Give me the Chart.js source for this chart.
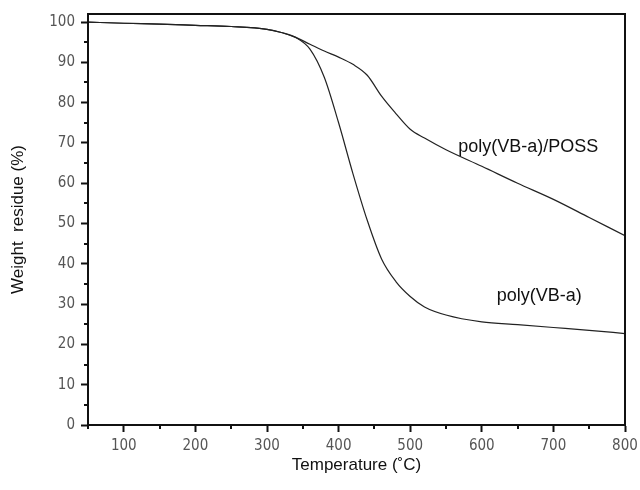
<!DOCTYPE html>
<html>
<head>
<meta charset="utf-8">
<script src="https://cdn.jsdelivr.net/npm/chart.js@4/dist/chart.umd.min.js"></script>
<style>
  html, body { margin: 0; padding: 0; background: #fff; }
  canvas { display: block; }
</style>
</head>
<body>
<canvas id="tga" width="640" height="490"></canvas>
<script>
// temperature (°C) and weight residue (%)
const temps = [50, 100, 150, 200, 250, 300, 320, 340, 360, 380, 400, 420, 440, 460, 480, 500, 520, 550, 600, 650, 700, 750, 800];
const possResidue = [100, 99.7, 99.5, 99.2, 98.9, 98.2, 97.4, 96.2, 94.5, 92.8, 91.3, 89.5, 86.8, 81.6, 77.3, 73.4, 71.2, 68.3, 64.2, 60.0, 56.0, 51.5, 47.0];
const vbaResidue = [100, 99.7, 99.5, 99.2, 98.9, 98.2, 97.4, 96.2, 93.3, 86.3, 75.0, 62.4, 50.8, 41.2, 35.6, 31.9, 29.3, 27.3, 25.6, 24.9, 24.2, 23.5, 22.7];

const xTicks = [100, 200, 300, 400, 500, 600, 700, 800];
const xMinor = [50, 150, 250, 350, 450, 550, 650, 750];
const yTicks = [0, 10, 20, 30, 40, 50, 60, 70, 80, 90, 100];
const yMinor = [5, 15, 25, 35, 45, 55, 65, 75, 85, 95];

const labels = [
  { text: 'poly(VB-a)/POSS', x: 567, y: 69 },
  { text: 'poly(VB-a)', x: 621, y: 32 }
];

const tickFont = { family: "'Liberation Sans Narrow', 'DejaVu Sans Condensed', sans-serif", size: 15 };
const titleFont = { family: "'Liberation Sans', Arial, sans-serif", size: 17 };

const toPoints = (ys) => temps.map((t, i) => ({ x: t, y: ys[i] }));

// frame, minor ticks and curve labels
const extras = {
  id: 'extras',
  afterDraw(chart) {
    const { ctx, chartArea: a, scales: { x, y } } = chart;
    ctx.save();
    ctx.strokeStyle = '#111';
    ctx.lineWidth = 2;
    ctx.strokeRect(a.left, a.top, a.right - a.left, a.bottom - a.top);

    ctx.beginPath();
    xMinor.forEach(v => {
      const px = Math.round(x.getPixelForValue(v));
      ctx.moveTo(px, a.bottom);
      ctx.lineTo(px, a.bottom + 4);
    });
    yMinor.forEach(v => {
      const py = Math.round(y.getPixelForValue(v));
      ctx.moveTo(a.left - 4, py);
      ctx.lineTo(a.left, py);
    });
    ctx.stroke();

    ctx.fillStyle = '#111';
    ctx.font = "18px 'Liberation Sans', Arial, sans-serif";
    ctx.textAlign = 'left';
    ctx.textBaseline = 'middle';
    labels.forEach(l => {
      ctx.fillText(l.text, x.getPixelForValue(l.x), y.getPixelForValue(l.y));
    });
    ctx.restore();
  }
};

new Chart(document.getElementById('tga'), {
  type: 'scatter',
  data: {
    datasets: [
      {
        label: 'poly(VB-a)/POSS',
        data: toPoints(possResidue),
        showLine: true,
        borderColor: '#222',
        borderWidth: 1.2,
        pointRadius: 0,
        cubicInterpolationMode: 'monotone'
      },
      {
        label: 'poly(VB-a)',
        data: toPoints(vbaResidue),
        showLine: true,
        borderColor: '#222',
        borderWidth: 1.2,
        pointRadius: 0,
        cubicInterpolationMode: 'monotone'
      }
    ]
  },
  options: {
    responsive: false,
    animation: false,
    devicePixelRatio: 1,
    layout: { padding: { top: 14, right: 15, left: 0, bottom: 0 } },
    plugins: { legend: { display: false }, tooltip: { enabled: false } },
    scales: {
      x: {
        type: 'linear',
        min: 50,
        max: 800,
        afterBuildTicks: (s) => { s.ticks = xTicks.map(v => ({ value: v })); },
        afterFit: (s) => { s.height = 65; s.paddingLeft = 0; s.paddingRight = 0; },
        grid: { drawOnChartArea: false, tickLength: 7, tickWidth: 2, tickColor: '#111' },
        border: { color: '#111', width: 2 },
        ticks: { font: tickFont, color: '#555', padding: 5, maxRotation: 0 },
        title: { display: true, text: 'Temperature (˚C)', font: titleFont, color: '#111', padding: { bottom: 14 } }
      },
      y: {
        min: 0,
        max: 102,
        afterBuildTicks: (s) => { s.ticks = yTicks.map(v => ({ value: v })); },
        afterFit: (s) => { s.width = 88; s.paddingTop = 0; s.paddingBottom = 0; },
        grid: { drawOnChartArea: false, tickLength: 7, tickWidth: 2, tickColor: '#111' },
        border: { color: '#111', width: 2 },
        ticks: { font: tickFont, color: '#555', padding: 6 },
        title: { display: true, text: 'Weight  residue (%)', font: titleFont, color: '#111', padding: { top: 8 } }
      }
    }
  },
  plugins: [extras]
});
</script>
</body>
</html>
